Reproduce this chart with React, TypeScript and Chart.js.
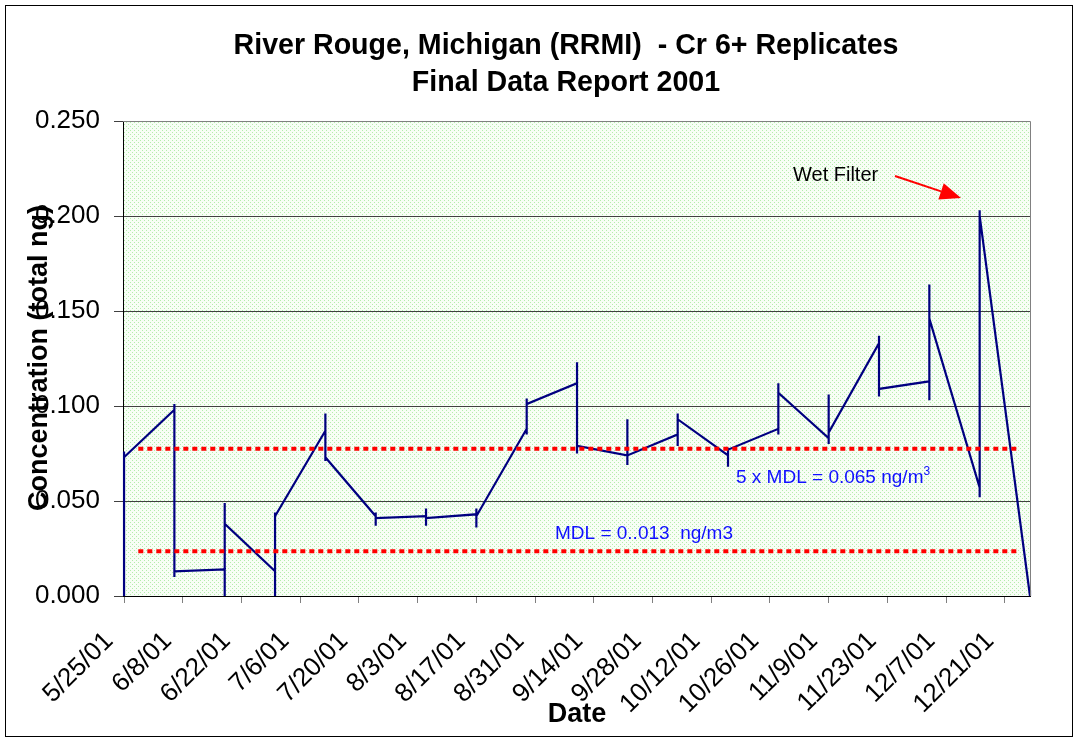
import React, { useEffect, useRef } from 'react';
import { Chart, registerables } from 'chart.js';

Chart.register(...registerables);

// ---- data ----
const sampleDates: string[] = [
  '5/25/01', '6/6/01', '6/18/01', '6/30/01', '7/12/01', '7/24/01', '8/5/01',
  '8/17/01', '8/29/01', '9/10/01', '9/22/01', '10/4/01', '10/16/01', '10/28/01',
  '11/9/01', '11/21/01', '12/3/01', '12/15/01', '12/27/01',
];

// replicate values for each sample date, in plotting order
const replicateValues: number[][] = [
  [0.0, 0.076, 0.073],
  [0.098, 0.101, 0.01, 0.013],
  [0.014, 0.0, 0.049, 0.038],
  [0.013, 0.0, 0.044, 0.042],
  [0.087, 0.096, 0.071, 0.073],
  [0.042, 0.044, 0.037, 0.041],
  [0.042, 0.046, 0.037, 0.041],
  [0.043, 0.046, 0.036, 0.042],
  [0.088, 0.085, 0.104, 0.101],
  [0.112, 0.123, 0.075, 0.079],
  [0.074, 0.093, 0.069, 0.074],
  [0.085, 0.079, 0.096, 0.093],
  [0.074, 0.068, 0.078, 0.077],
  [0.088, 0.085, 0.112, 0.107],
  [0.083, 0.106, 0.08, 0.086],
  [0.133, 0.137, 0.105, 0.109],
  [0.113, 0.103, 0.164, 0.146],
  [0.057, 0.052, 0.203, 0.2],
  [0.0, 0.003],
];

const tickLabels: string[] = [
  '5/25/01', '6/8/01', '6/22/01', '7/6/01', '7/20/01', '8/3/01', '8/17/01', '8/31/01',
  '9/14/01', '9/28/01', '10/12/01', '10/26/01', '11/9/01', '11/23/01', '12/7/01', '12/21/01',
];
const tickStepDays = 14;
const axisStartDay = -0.25;
const axisEndDate = '12/27/01';

const yMin = 0;
const yMax = 0.25;
const yStep = 0.05;

const mdlLevels: number[] = [0.0775, 0.0236];
const mdlSpanDays: number[] = [3.4, 213.6];

const titleLines: string[] = ['River Rouge, Michigan (RRMI)  - Cr 6+ Replicates', 'Final Data Report 2001'];
const yTitle = 'Concentration (total ng)';
const xTitle = 'Date';
const noteText = 'Wet Filter';
const mdl5Text = '5 x MDL = 0.065 ng/m';
const mdl5Sup = '3';
const mdlText = 'MDL = 0..013  ng/m3';

const FONT = '"Liberation Sans", Arial, sans-serif';

function dayOffset(d: string): number {
  const [m, dd, yy] = d.split('/').map(Number);
  return (Date.UTC(2000 + yy, m - 1, dd) - Date.UTC(2001, 4, 25)) / 86400000;
}

function makePattern(ctx: CanvasRenderingContext2D): CanvasPattern | string {
  const c = document.createElement('canvas');
  c.width = 4;
  c.height = 4;
  const p = c.getContext('2d');
  if (!p) return '#ecfbe9';
  p.fillStyle = '#f7fef5';
  p.fillRect(0, 0, 4, 4);
  p.fillStyle = '#b4ecac';
  p.fillRect(0, 0, 1, 1);
  p.fillRect(2, 2, 1, 1);
  return ctx.createPattern(c, 'repeat') || '#ecfbe9';
}

const decorPlugin = {
  id: 'decor',
  beforeDraw(chart: any) {
    const { ctx, chartArea: a } = chart;
    ctx.save();
    ctx.fillStyle = '#ffffff';
    ctx.fillRect(0, 0, chart.width, chart.height);
    ctx.fillStyle = makePattern(ctx);
    ctx.fillRect(a.left, a.top, a.right - a.left, a.bottom - a.top);
    ctx.restore();
  },
  afterDraw(chart: any) {
    const { ctx, chartArea: a } = chart;
    ctx.save();
    // plot frame top/right
    ctx.strokeStyle = '#808080';
    ctx.lineWidth = 1;
    ctx.beginPath();
    ctx.moveTo(a.left, a.top + 0.5);
    ctx.lineTo(a.right + 0.5, a.top + 0.5);
    ctx.lineTo(a.right + 0.5, a.bottom);
    ctx.stroke();

    // titles
    ctx.fillStyle = '#000';
    ctx.textAlign = 'center';
    ctx.textBaseline = 'alphabetic';
    ctx.font = `bold 28.6px ${FONT}`;
    ctx.fillText(titleLines[0], 566, 54);
    ctx.fillText(titleLines[1], 566, 91);

    // axis titles
    ctx.font = `bold 27px ${FONT}`;
    ctx.fillText(xTitle, 577, 722);
    ctx.save();
    ctx.translate(47, 358);
    ctx.rotate(-Math.PI / 2);
    ctx.fillText(yTitle, 0, 0);
    ctx.restore();

    // annotations
    ctx.textAlign = 'left';
    ctx.font = `20px ${FONT}`;
    ctx.fillStyle = '#000';
    ctx.fillText(noteText, 793, 181);

    ctx.fillStyle = '#1010ff';
    ctx.font = `19px ${FONT}`;
    ctx.fillText(mdl5Text, 736, 483);
    const w = ctx.measureText(mdl5Text).width;
    ctx.font = `12px ${FONT}`;
    ctx.fillText(mdl5Sup, 736 + w, 475);
    ctx.font = `19px ${FONT}`;
    ctx.fillText(mdlText, 555, 539);

    // red arrow
    const x1 = 895, y1 = 176, x2 = 961, y2 = 198;
    const ang = Math.atan2(y2 - y1, x2 - x1);
    const hl = 21, hw = 8.5;
    const bx = x2 - hl * Math.cos(ang), by = y2 - hl * Math.sin(ang);
    ctx.strokeStyle = '#ff0000';
    ctx.fillStyle = '#ff0000';
    ctx.lineWidth = 2;
    ctx.beginPath();
    ctx.moveTo(x1, y1);
    ctx.lineTo(bx, by);
    ctx.stroke();
    ctx.beginPath();
    ctx.moveTo(x2, y2);
    ctx.lineTo(bx + hw * Math.sin(ang), by - hw * Math.cos(ang));
    ctx.lineTo(bx - hw * Math.sin(ang), by + hw * Math.cos(ang));
    ctx.closePath();
    ctx.fill();

    // outer border
    ctx.strokeStyle = '#000';
    ctx.lineWidth = 1;
    ctx.strokeRect(5.5, 5.5, 1067, 731);
    ctx.restore();
  },
};

export default function App() {
  const canvasRef = useRef<HTMLCanvasElement | null>(null);

  useEffect(() => {
    const canvas = canvasRef.current;
    if (!canvas) return;

    const points = sampleDates.flatMap((d, i) =>
      replicateValues[i].map((v) => ({ x: dayOffset(d), y: v }))
    );
    const mdlData = mdlLevels.map((lv) => mdlSpanDays.map((dx) => ({ x: dx, y: lv })));

    const chart = new Chart(canvas, {
      type: 'line',
      data: {
        datasets: [
          ...mdlData.map((d) => ({
            data: d,
            borderColor: '#ff0000',
            borderWidth: 4,
            borderDash: [5, 4],
            borderCapStyle: 'butt' as const,
            pointRadius: 0,
            fill: false,
          })),
          {
            data: points,
            borderColor: '#000080',
            borderWidth: 2.2,
            pointRadius: 0,
            tension: 0,
            fill: false,
            clip: 6,
          },
        ],
      },
      options: {
        animation: false,
        responsive: false,
        maintainAspectRatio: false,
        layout: { padding: { left: 0, top: 121, right: 49, bottom: 0 } },
        plugins: {
          legend: { display: false },
          tooltip: { enabled: false },
          title: { display: false },
        },
        scales: {
          x: {
            type: 'linear',
            min: axisStartDay,
            max: dayOffset(axisEndDate),
            afterFit: (s: any) => {
              s.height = 146;
            },
            afterBuildTicks: (s: any) => {
              s.ticks = tickLabels.map((_, i) => ({ value: i * tickStepDays }));
            },
            grid: {
              drawOnChartArea: false,
              drawTicks: true,
              tickLength: 7,
              color: '#808080',
            },
            border: { color: '#000', width: 1 },
            ticks: {
              autoSkip: false,
              minRotation: 45,
              maxRotation: 45,
              padding: 23,
              labelOffset: -15,
              color: '#000',
              font: { family: FONT, size: 26 },
              callback: (_v: any, i: number) => tickLabels[i],
            },
          },
          y: {
            type: 'linear',
            min: yMin,
            max: yMax,
            afterFit: (s: any) => {
              s.width = 123;
            },
            grid: {
              color: '#404040',
              lineWidth: 1,
              tickLength: 9,
              drawTicks: true,
            },
            border: { color: '#000', width: 1 },
            ticks: {
              stepSize: yStep,
              padding: 14,
              color: '#000',
              font: { family: FONT, size: 26 },
              callback: (v: any) => Number(v).toFixed(3),
            },
          },
        },
      },
      plugins: [decorPlugin],
    });

    return () => chart.destroy();
  }, []);

  return (
    <div style={{ position: 'absolute', left: 0, top: 0, width: 1079, height: 742, background: '#fff' }}>
      <canvas ref={canvasRef} width={1079} height={742} style={{ width: 1079, height: 742, display: 'block' }} />
    </div>
  );
}
